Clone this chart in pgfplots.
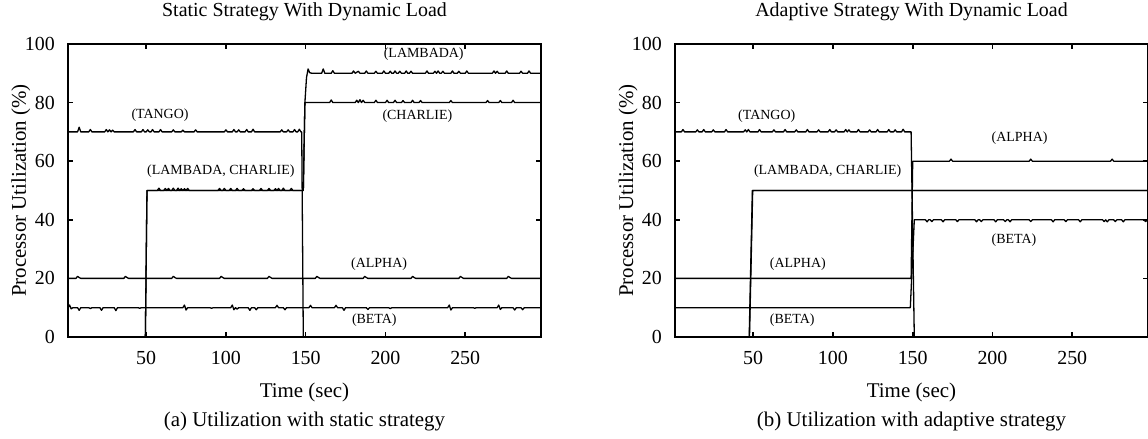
\documentclass[border=0pt]{standalone}
\usepackage{fontspec}
\setmainfont{Liberation Serif}
\usepackage{pgfplots}
\pgfplotsset{compat=1.18}

\tikzset{lbl/.style={font=\fontsize{14}{15}\selectfont}}
\pgfplotsset{
  util/.style={
    scale only axis, width=473bp, height=293bp, anchor=south west,
    xmin=1, xmax=297.5, ymin=0, ymax=100,
    xtick={50,100,150,200,250}, ytick={0,20,40,60,80,100},
    tick align=inside, major tick length=5bp,
    axis line style={line width=2bp},
    every tick/.style={black, line width=1.6bp},
    /pgf/number format/assume math mode=true,
    tick label style={font=\fontsize{20}{21}\selectfont},
    xticklabel style={anchor=base, yshift=-28bp},
    yticklabel style={anchor=east, inner sep=0pt, xshift=-13bp},
    xlabel={Time (sec)},
    xlabel style={at={(axis description cs:0.5,0)}, anchor=base, yshift=-60bp, font=\fontsize{21}{22}\selectfont},
    ylabel={Processor Utilization (\%)},
    ylabel style={at={(axis description cs:-0.0888,0.5)}, anchor=base, font=\fontsize{21}{22}\selectfont},
    title style={at={(axis description cs:0.5,1)}, anchor=base, yshift=22bp, font=\fontsize{20}{21}\selectfont},
    cycle list={{black, solid}},
    every axis plot post/.append style={black, line width=1.3bp, line join=round, mark=none},
  }
}

\begin{document}
\begin{tikzpicture}
\useasboundingbox (0,0) rectangle (1148bp,439bp);

% (a) static strategy
\begin{axis}[util, at={(68bp,102bp)}, title={Static Strategy With Dynamic Load}]
% TANGO
\addplot coordinates {(1,70)(7,70)(8,71.6)(9,70)(14,70)(15,70.8)(16,70)(24,70)(25,70.8)(26,70)(27,70.7)(28,70)(29,70.6)(30,70)(42,70)(43,70.8)(44,70)(47,70)(48,70.8)(49,70)(50,70)(51,70.7)(52,70)(53,70)(54,70.8)(55,70)(58,70)(59,70.8)(60,70)(66,70)(67,70.7)(68,70)(72,70)(73,70.6)(74,70)(80,70)(81,70.7)(82,70)(99,70)(100,70.7)(101,70)(104,70)(105,70.8)(106,70)(107,70)(108,70.7)(109,70)(112,70)(113,70.8)(114,70)(116,70)(117,70.9)(118,70)(134,70)(135,70.7)(136,70)(138,70)(139,70.7)(140,70)(142,70)(143,70.8)(144,70)(145,70)(146,70.9)(147,70)(147.5,70)(148.5,0)(297.5,0)};
% LAMBADA
\addplot coordinates {(1,0)(49.5,0)(50.5,50)(57,50)(58,50.8)(59,50)(63,50)(64,50.7)(65,50)(69,50)(70,50.8)(71,50)(73,50)(74,50.6)(75,50)(76,50.7)(77,50)(95,50)(96,50.7)(97,50)(102,50)(103,50.7)(104,50)(116,50)(117,50.6)(118,50)(126,50)(127,50.7)(128,50)(132,50)(133,50.7)(134,50)(140,50)(141,50.7)(142,50)(148.5,50)(149.5,80)(150.5,88.5)(151.5,91.5)(152.5,90.2)(154,90)(160,90)(161,91.5)(162,90)(166,90)(167,90.9)(168,90)(179,90)(180,90.8)(181,90)(183,90.7)(184,90)(187,90)(188,90.8)(189,90)(193,90)(194,90.7)(195,90)(198,90)(199,90.8)(200,90)(202,90)(203,90.7)(204,90)(205,90)(206,90.8)(207,90)(208,90)(209,90.7)(210,90)(212,90)(213,90.8)(214,90)(215,90)(216,90.7)(217,90)(225,90)(226,90.8)(227,90)(230,90)(231,90.7)(232,90)(233,90.8)(234,90)(235,90)(236,90.7)(237,90)(241,90)(242,90.8)(243,90)(245,90)(246,90.7)(247,90)(250,90)(251,90.8)(252,90)(267,90)(268,90.8)(269,90)(270,90.7)(271,90)(275,90)(276,90.8)(277,90)(284,90)(285,90.7)(286,90)(289,90)(290,90.8)(291,90)(297.5,90)};
% CHARLIE
\addplot coordinates {(1,0)(49.5,0)(50.5,50)(61,50)(62,50.7)(63,50)(66,50)(67,50.8)(68,50)(71,50)(72,50.6)(73,50)(98,50)(99,50.7)(100,50)(106,50)(107,50.7)(108,50)(110,50)(111,50.6)(112,50)(121,50)(122,50.7)(123,50)(130,50)(131,50.6)(132,50)(135,50)(136,50.8)(137,50)(148.5,50)(149.5,80)(165,80)(166,80.9)(167,80)(181,80)(182,80.8)(183,80)(184,81)(185,80)(186,80.8)(187,80)(193,80)(194,80.8)(195,80)(200,80)(201,80.8)(202,80)(205,80)(206,80.8)(207,80)(210,80)(211,80.7)(212,80)(216,80)(217,80.8)(218,80)(221,80)(222,80.7)(223,80)(240,80)(241,80.7)(242,80)(263,80)(264,80.7)(265,80)(271,80)(272,80.7)(273,80)(279,80)(280,80.8)(281,80)(297.5,80)};
% ALPHA
\addplot coordinates {(1,20)(6,20)(7,20.7)(8,20.3)(9,20)(36,20)(37,20.7)(38,20.3)(39,20)(66,20)(67,20.7)(68,20.3)(69,20)(96,20)(97,20.7)(98,20.3)(99,20)(126,20)(127,20.7)(128,20.3)(129,20)(156,20)(157,20.7)(158,20.3)(159,20)(186,20)(187,20.7)(188,20.3)(189,20)(216,20)(217,20.7)(218,20.3)(219,20)(246,20)(247,20.7)(248,20.3)(249,20)(276,20)(277,20.7)(278,20.3)(279,20)(297.5,20)};
% BETA
\addplot coordinates {(1,10)(2,10.9)(3,9.6)(4,10)(7,10)(8,9.1)(9,10)(14,10)(15,9.7)(16,10)(21,10)(22,9.1)(23,10)(30,10)(31,9.0)(32,10)(45,10)(46,9.8)(47,10)(73,10)(74,10.9)(75,9.2)(76,10)(90,10)(91,9.8)(92,10)(103,10)(104,10.9)(105,9.3)(106,10)(107,9.5)(108,10)(114,10)(115,9.1)(116,10)(118,10)(119,9.3)(120,10)(131,10)(132,10.8)(133,10)(136,10)(137,9.3)(138,10)(152,10)(153,10.8)(154,10)(168,10)(169,10.8)(170,10)(173,10)(174,9.1)(175,10)(188,10)(189,9.4)(190,10)(202,10)(203,9.7)(204,10)(239,10)(240,10.9)(241,9.2)(242,10)(255,10)(256,9.8)(257,10)(270,10)(271,10.9)(272,9.4)(273,10)(280,10)(281,9.2)(282,10)(285,10)(286,9.3)(287,10)(297.5,10)};
\node[lbl] at (axis cs:224,96.5) {(LAMBADA)};
\node[lbl] at (axis cs:220,75.5) {(CHARLIE)};
\node[lbl] at (axis cs:58.7,75.6) {(TANGO)};
\node[lbl] at (axis cs:96.8,56.6) {(LAMBADA, CHARLIE)};
\node[lbl] at (axis cs:196,24.7) {(ALPHA)};
\node[lbl] at (axis cs:193,5.9) {(BETA)};
\end{axis}

% (b) adaptive strategy
\begin{axis}[util, at={(675bp,102bp)}, title={Adaptive Strategy With Dynamic Load}]
% TANGO
\addplot coordinates {(1,70)(5,70)(6,70.8)(7,70)(14,70)(15,70.7)(16,70)(18,70)(19,70.8)(20,70)(24,70)(25,70.7)(26,70)(32,70)(33,70.8)(34,70)(44,70)(45,70.7)(46,70)(47,70.8)(48,70)(53,70)(54,70.8)(55,70)(62,70)(63,70.7)(64,70)(69,70)(70,70.8)(71,70)(76,70)(77,70.7)(78,70)(83,70)(84,70.8)(85,70)(90,70)(91,70.7)(92,70)(97,70)(98,70.8)(99,70)(101,70)(102,70.7)(103,70)(107,70)(108,70.8)(109,70)(110,70.7)(111,70)(115,70)(116,70.8)(117,70)(122,70)(123,70.7)(124,70)(127,70)(128,70.8)(129,70)(134,70)(135,70.8)(136,70)(138,70)(139,70.7)(140,70)(143,70)(144,70.9)(145,70)(149,70)(151,0)(297.5,0)};
% LAMBADA
\addplot coordinates {(1,0)(47.5,0)(49.5,50)(297.5,50)};
% CHARLIE
\addplot coordinates {(1,0)(47.7,0)(49.7,50)(297.5,50)};
% ALPHA
\addplot coordinates {(1,20)(149,20)(150,60)(173,60)(174,60.7)(175,60)(223,60)(224,60.7)(225,60)(274,60)(275,60.7)(276,60)(297.5,60)};
% BETA
\addplot coordinates {(1,10)(148.5,10)(151,40)(158,40)(159,39.3)(160,40)(161,40)(162,39.4)(163,40)(168,40)(169,39.3)(170,40)(177,40)(178,39.4)(179,40)(189,40)(190,39.3)(191,40)(192,40)(193,39.4)(194,40)(201,40)(202,39.3)(203,40)(207,40)(208,39.4)(209,40)(210,40)(211,39.3)(212,40)(223,40)(224,39.4)(225,40)(237,40)(238,39.3)(239,40)(245,40)(246,39.4)(247,40)(254,40)(255,39.3)(256,40)(269,40)(270,39.4)(271,40)(272,39.3)(273,40)(276,40)(277,39.4)(278,40)(281,40)(282,39.3)(283,40)(295,40)(296,39.4)(297,40)(297.5,40)};
\node[lbl] at (axis cs:58.5,75.5) {(TANGO)};
\node[lbl] at (axis cs:217,68) {(ALPHA)};
\node[lbl] at (axis cs:96.7,56.6) {(LAMBADA, CHARLIE)};
\node[lbl] at (axis cs:213.5,33) {(BETA)};
\node[lbl] at (axis cs:78,24.7) {(ALPHA)};
\node[lbl] at (axis cs:74.5,5.9) {(BETA)};
\end{axis}

\node[anchor=base, font=\fontsize{21}{22}\selectfont] at (304.5bp,13bp) {(a) Utilization with static strategy};
\node[anchor=base, font=\fontsize{21}{22}\selectfont] at (911.5bp,13bp) {(b) Utilization with adaptive strategy};
\end{tikzpicture}
\end{document}
